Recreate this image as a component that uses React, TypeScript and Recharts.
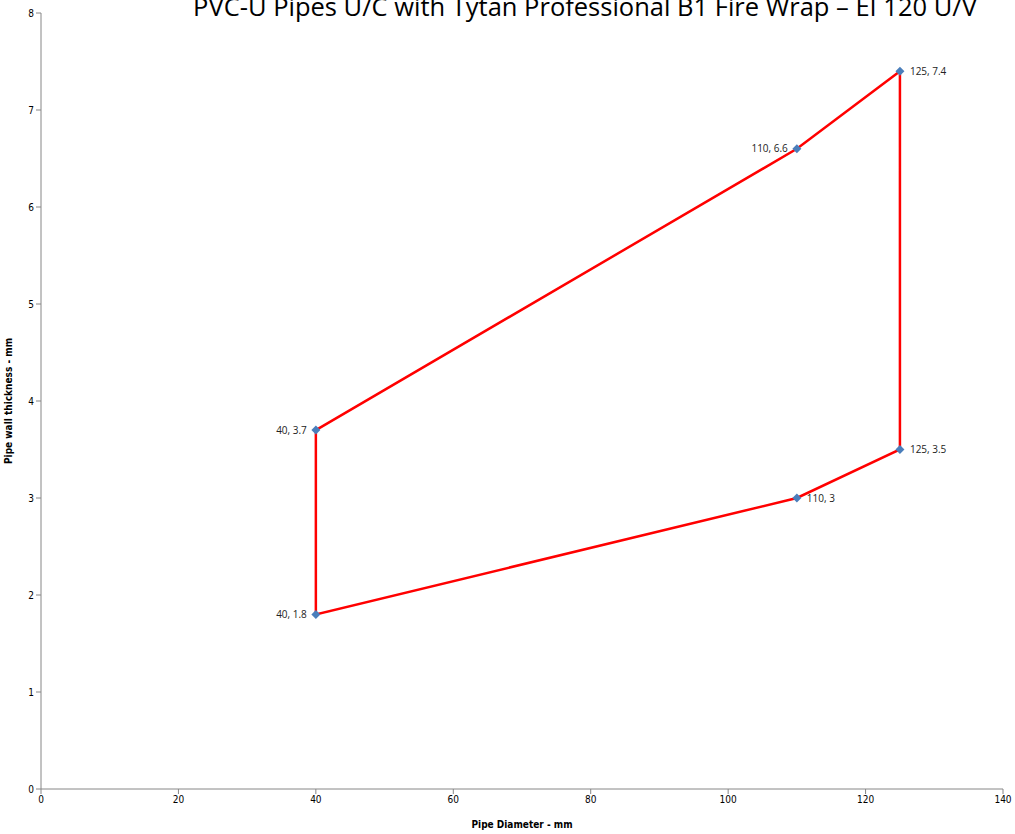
import React from "react";
import { ComposedChart, XAxis, YAxis, Line, Scatter, LabelList } from "recharts";

const diameters = [40, 110, 125, 125, 110, 40];
const thickness = [3.7, 6.6, 7.4, 3.5, 3, 1.8];
const labelSide = ["left", "left", "right", "right", "right", "left"];
const xTicks = [0, 20, 40, 60, 80, 100, 120, 140];
const yTicks = [0, 1, 2, 3, 4, 5, 6, 7, 8];
const title = "PVC-U Pipes U/C with Tytan Professional B1 Fire Wrap – EI 120 U/V";
const xLabel = "Pipe Diameter - mm";
const yLabel = "Pipe wall thickness - mm";

const points = diameters.map((x, i) => ({
  x,
  y: thickness[i],
  label: `${x}, ${thickness[i]}`,
  side: labelSide[i],
}));
const outline = [...points, points[0]];

const FONT = "'DejaVu Sans Condensed', 'Liberation Sans Narrow', 'Liberation Sans', sans-serif";
const LFONT = "'Open Sans', 'Liberation Sans', sans-serif";

const Diamond = (props: any) => {
  const { cx, cy } = props;
  const r = 4.5;
  return (
    <path
      d={`M${cx},${cy - r} L${cx + r},${cy} L${cx},${cy + r} L${cx - r},${cy} Z`}
      fill="#4a7ebb"
    />
  );
};

const PointLabel = (props: any) => {
  const { x, y, width, height, value, index } = props;
  const cx = x + (width || 0) / 2;
  const cy = y + (height || 0) / 2;
  const side = points[index]?.side;
  const left = side === "left";
  return (
    <text
      x={left ? cx - 9 : cx + 10}
      y={cy}
      dy="0.35em"
      textAnchor={left ? "end" : "start"}
      fontFamily={LFONT}
      fontSize={10}
      fill="#222"
    >
      {value}
    </text>
  );
};

export default function App() {
  return (
    <div style={{ position: "absolute", left: 0, top: 0, width: 1015, height: 834, background: "#fff" }}>
      <ComposedChart
        width={1015}
        height={834}
        margin={{ top: 13, right: 12, bottom: 0, left: 0 }}
      >
        <text x={585} y={16} textAnchor="middle" fontFamily={LFONT} fontSize={25.5} fill="#000">
          {title}
        </text>
        <XAxis
          type="number"
          dataKey="x"
          domain={[0, 140]}
          ticks={xTicks}
          interval={0}
          height={45}
          stroke="#868686"
          tickLine={{ stroke: "#868686" }}
          tickSize={5}
          tick={{ fontSize: 10, fill: "#000", fontFamily: FONT }}
          allowDataOverflow
          label={{
            value: xLabel,
            position: "insideBottom",
            offset: 6,
            style: { fontSize: 10, fontWeight: "bold", fill: "#000", fontFamily: FONT },
          }}
        />
        <YAxis
          type="number"
          dataKey="y"
          domain={[0, 8]}
          ticks={yTicks}
          interval={0}
          width={41}
          stroke="#868686"
          tickLine={{ stroke: "#868686" }}
          tickSize={5}
          tick={{ fontSize: 10, fill: "#000", fontFamily: FONT }}
          allowDataOverflow
          label={{
            value: yLabel,
            angle: -90,
            position: "insideLeft",
            offset: 8,
            style: { textAnchor: "middle", fontSize: 10, fontWeight: "bold", fill: "#000", fontFamily: FONT },
          }}
        />
        <Line
          data={outline}
          dataKey="y"
          type="linear"
          stroke="#ff0000"
          strokeWidth={2.5}
          dot={false}
          activeDot={false}
          isAnimationActive={false}
        />
        <Scatter data={points} dataKey="y" shape={<Diamond />} isAnimationActive={false}>
          <LabelList dataKey="label" content={<PointLabel />} />
        </Scatter>
      </ComposedChart>
    </div>
  );
}
